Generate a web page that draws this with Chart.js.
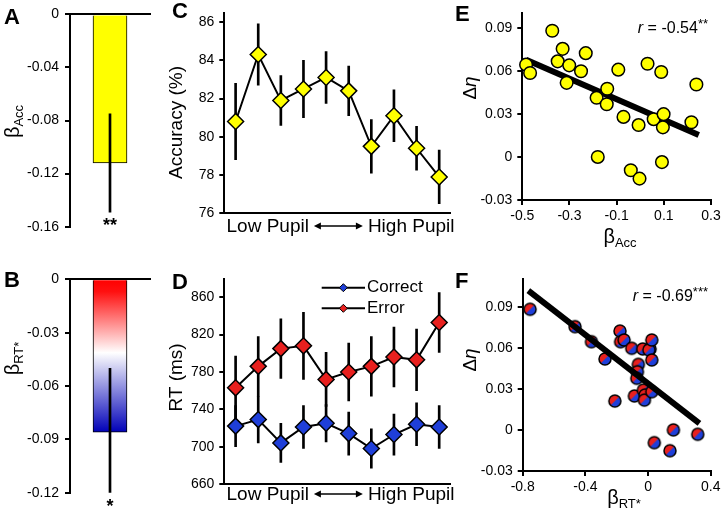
<!DOCTYPE html>
<html>
<head>
<meta charset="utf-8">
<script src="https://cdn.jsdelivr.net/npm/chart.js@4.4.1/dist/chart.umd.min.js"></script>
<style>
  html, body { margin: 0; padding: 0; background: #fff; }
  #fig { position: relative; width: 724px; height: 519px; overflow: hidden; }
  #fig canvas { position: absolute; }
</style>
</head>
<body>
<div id="fig">
  <canvas id="chartA" width="160" height="260" style="left:0;top:0"></canvas>
  <canvas id="chartB" width="160" height="259" style="left:0;top:260px"></canvas>
  <canvas id="chartC" width="300" height="260" style="left:160px;top:0"></canvas>
  <canvas id="chartD" width="300" height="259" style="left:160px;top:260px"></canvas>
  <canvas id="chartE" width="274" height="260" style="left:450px;top:0"></canvas>
  <canvas id="chartF" width="274" height="259" style="left:450px;top:260px"></canvas>
</div>
<script>
// ---- data ----
// A, B: mean regression weight and its error
const accBeta = [-0.112];
const accBetaErr = [0.037];
const rtBeta = [-0.086];
const rtBetaErr = [0.036];

// C, D: ten pupil bins
const pupilBins = ['1', '2', '3', '4', '5', '6', '7', '8', '9', '10'];
const accuracy = [80.8, 84.3, 81.9, 82.5, 83.1, 82.4, 79.5, 81.1, 79.4, 77.9];
const accuracyErr = [2.0, 1.6, 1.3, 1.5, 1.35, 1.3, 1.4, 1.35, 1.15, 1.4];
const rtCorrect = [722, 729, 704, 721, 725, 714, 698, 713, 724, 721];
const rtCorrectErr = [22, 25, 21, 23, 20, 23, 21, 22, 23, 23];
const rtError = [763, 786, 805, 808, 772, 780, 786, 796, 793, 833];
const rtErrorErr = [34, 32, 32, 36, 29, 31, 32, 32, 33, 32];

// E: beta accuracy vs delta eta
const betaAcc = [-0.484, -0.467, -0.373, -0.350, -0.329, -0.301, -0.312, -0.251, -0.231, -0.185, -0.180, -0.140, -0.142,
                 -0.093, -0.071, -0.040, -0.003, -0.007, 0.031, 0.057, 0.089, 0.092, 0.099, 0.096, 0.217, 0.238];
const etaE = [0.0643, 0.0585, 0.0879, 0.0666, 0.0753, 0.0638, 0.0516, 0.0597, 0.0723, 0.0412, 0.0, 0.0475, 0.0367,
              0.0608, 0.0279, -0.0093, -0.0151, 0.0222, 0.0649, 0.0263, 0.0592, -0.0036, 0.0298, 0.0206, 0.0242, 0.0505];
const fitEx = [-0.484, 0.248];
const fitEy = [0.0677, 0.0153];

// F: beta RT* vs delta eta
const betaRT = [-0.753, -0.466, -0.361, -0.275, -0.212, -0.179, -0.175, -0.153, -0.104, -0.034, 0.013, 0.005, 0.024,
                0.024, -0.062, -0.068, -0.072, -0.087, -0.030, -0.019, -0.023, 0.024, 0.040, 0.140, 0.162, 0.317];
const etaF = [0.0881, 0.0754, 0.0644, 0.0518, 0.0211, 0.0722, 0.0644, 0.0657, 0.0596, 0.0591, 0.0591, 0.0585, 0.0657,
              0.0511, 0.0479, 0.0425, 0.0377, 0.0248, 0.0291, 0.0255, 0.0218, 0.0279, -0.0093, -0.0152, 0.0, -0.0032];
const fitFx = [-0.764, 0.328];
const fitFy = [0.1017, 0.0048];

// tick values
const ticksA = [0, -0.04, -0.08, -0.12, -0.16];
const ticksB = [0, -0.03, -0.06, -0.09, -0.12];
const ticksC = [76, 78, 80, 82, 84, 86];
const ticksD = [660, 700, 740, 780, 820, 860];
const ticksEx = [-0.5, -0.3, -0.1, 0.1, 0.3];
const ticksFx = [-0.8, -0.4, 0, 0.4];
const ticksEta = [-0.03, 0, 0.03, 0.06, 0.09];

// ---- style ----
const YELLOW = '#ffff00';
const RED = '#e8201e';
const BLUE = '#1f3fd9';
const FONT = "'Liberation Sans', Arial, Helvetica, sans-serif";
Chart.defaults.font.family = FONT;
Chart.defaults.color = '#000';
Chart.defaults.animation = false;

const fmt = v => String(parseFloat(Number(v).toFixed(3)));

function linAxis(pos, min, max, ticks, size, pad) {
  return {
    type: 'linear', position: pos, min: min, max: max,
    afterBuildTicks: s => { s.ticks = ticks.map(v => ({ value: v })); },
    afterFit: s => { if (pos === 'left') s.width = size; else s.height = size; },
    ticks: { font: { size: 14 }, color: '#000', padding: pad, callback: v => fmt(v) },
    grid: { display: true, drawOnChartArea: false, drawTicks: true, tickLength: 5, color: '#000', lineWidth: 2 },
    border: { display: true, color: '#000', width: 2 }
  };
}

function catAxis(pos, size) {
  return {
    type: 'category', position: pos, offset: true,
    afterFit: s => { s.height = size; },
    ticks: { display: false },
    grid: { display: false },
    border: { display: true, color: '#000', width: 2 }
  };
}

// free text (panel letters, sub-scripted titles, stars); a part may be a drawn double arrow
const textPlugin = {
  id: 'panelText',
  afterDraw(chart, args, opts) {
    const ctx = chart.ctx;
    const partWidth = p => {
      if (p.arrow) return p.arrow + 2 * p.gap;
      ctx.font = p.font;
      return ctx.measureText(p.text).width;
    };
    (opts.items || []).forEach(item => {
      ctx.save();
      ctx.translate(item.x, item.y);
      if (item.rotate) ctx.rotate(item.rotate * Math.PI / 180);
      ctx.fillStyle = '#000';
      ctx.strokeStyle = '#000';
      ctx.textBaseline = 'alphabetic';
      ctx.textAlign = 'left';
      let total = 0;
      item.parts.forEach(p => { total += partWidth(p); });
      let x = item.align === 'center' ? -total / 2 : item.align === 'right' ? -total : 0;
      item.parts.forEach(p => {
        if (p.arrow) {
          const x0 = x + p.gap, x1 = x0 + p.arrow, y = p.dy;
          ctx.lineWidth = 1.6;
          ctx.beginPath();
          ctx.moveTo(x0 + 2, y); ctx.lineTo(x1 - 2, y);
          ctx.stroke();
          ctx.beginPath();
          ctx.moveTo(x0, y); ctx.lineTo(x0 + 7, y - 3.5); ctx.lineTo(x0 + 7, y + 3.5); ctx.closePath();
          ctx.moveTo(x1, y); ctx.lineTo(x1 - 7, y - 3.5); ctx.lineTo(x1 - 7, y + 3.5); ctx.closePath();
          ctx.fill();
        } else {
          ctx.font = p.font;
          ctx.fillText(p.text, x, p.dy || 0);
        }
        x += partWidth(p);
      });
      ctx.restore();
    });
  }
};

// legend with line + diamond, as in the figure
const lineLegend = {
  id: 'lineLegend',
  afterDraw(chart, args, opts) {
    if (!opts.rows) return;
    const ctx = chart.ctx;
    opts.rows.forEach(r => {
      ctx.save();
      ctx.strokeStyle = '#000';
      ctx.lineWidth = 2;
      ctx.beginPath();
      ctx.moveTo(opts.x0, r.y);
      ctx.lineTo(opts.x1, r.y);
      ctx.stroke();
      const cx = (opts.x0 + opts.x1) / 2, d = 4;
      ctx.beginPath();
      ctx.moveTo(cx - d, r.y); ctx.lineTo(cx, r.y - d); ctx.lineTo(cx + d, r.y); ctx.lineTo(cx, r.y + d);
      ctx.closePath();
      ctx.fillStyle = r.color;
      ctx.fill();
      ctx.lineWidth = 1;
      ctx.stroke();
      ctx.fillStyle = '#000';
      ctx.font = '17px ' + FONT;
      ctx.textBaseline = 'middle';
      ctx.fillText(r.text, opts.x1 + 2, r.y);
      ctx.restore();
    });
  }
};

const letter = (t, x, y) => ({ x: x, y: y, parts: [{ text: t, font: 'bold 22px ' + FONT }] });
const betaTitle = (sub, x, y, rot, align) => ({
  x: x, y: y, rotate: rot, align: align,
  parts: [{ text: 'β', font: '20px ' + FONT }, { text: sub, font: '13px ' + FONT, dy: 4 }]
});
const etaTitle = (x, y) => ({
  x: x, y: y, rotate: -90, align: 'center',
  parts: [{ text: 'Δ', font: '19px ' + FONT }, { text: 'η', font: 'italic 19px ' + FONT }]
});
const rText = (num, stars, x, y) => ({
  x: x, y: y, align: 'right',
  parts: [{ text: 'r', font: 'italic 16px ' + FONT }, { text: ' = ' + num, font: '16px ' + FONT },
          { text: stars, font: '13px ' + FONT, dy: -5 }]
});
const pupilTitle = (x, y) => ({
  x: x, y: y, align: 'center',
  parts: [{ text: 'Low Pupil', font: '19px ' + FONT }, { arrow: 49, gap: 5, dy: -6 }, { text: 'High Pupil', font: '19px ' + FONT }]
});

const baseOpts = (padding, scales, items, extra) => ({
  responsive: false,
  layout: { padding: padding },
  scales: scales,
  plugins: Object.assign({ legend: { display: false }, tooltip: { enabled: false }, panelText: { items: items } }, extra || {})
});

// ---- A ----
new Chart(document.getElementById('chartA'), {
  type: 'bar',
  data: {
    labels: [''],
    datasets: [
      { data: accBeta.map((m, i) => [m - accBetaErr[i], m + accBetaErr[i]]), backgroundColor: '#000', barThickness: 2, grouped: false, order: 0 },
      { data: accBeta, backgroundColor: YELLOW, borderColor: '#000', borderWidth: 1, barThickness: 34, grouped: false, order: 1 }
    ]
  },
  options: baseOpts({ left: 0, right: 10, top: 11.7, bottom: 33.3 }, {
    x: catAxis('top', 0),
    y: linAxis('left', -0.16, 0, ticksA, 70, 6)
  }, [
    letter('A', 4, 24),
    betaTitle('Acc', 19, 121.5, -90, 'center'),
    { x: 110, y: 231, align: 'center', parts: [{ text: '**', font: 'bold 18px ' + FONT }] }
  ]),
  plugins: [textPlugin]
});

// ---- B ----
new Chart(document.getElementById('chartB'), {
  type: 'bar',
  data: {
    labels: [''],
    datasets: [
      { data: rtBeta.map((m, i) => [m - rtBetaErr[i], m + rtBetaErr[i]]), backgroundColor: '#000', barThickness: 2, grouped: false, order: 0 },
      {
        data: rtBeta, borderColor: '#000', borderWidth: 1, barThickness: 34, grouped: false, order: 1,
        backgroundColor(c) {
          const ch = c.chart;
          if (!ch.chartArea) return BLUE;
          const y = ch.scales.y;
          const g = ch.ctx.createLinearGradient(0, y.getPixelForValue(0), 0, y.getPixelForValue(rtBeta[0]));
          g.addColorStop(0, '#ff0000');
          g.addColorStop(0.08, '#ff1010');
          g.addColorStop(0.48, '#ffffff');
          g.addColorStop(1, '#0000b8');
          return g;
        }
      }
    ]
  },
  options: baseOpts({ left: 0, right: 10, top: 19.3, bottom: 26.3 }, {
    x: catAxis('top', 0),
    y: linAxis('left', -0.12, 0, ticksB, 70, 6)
  }, [
    letter('B', 4, 27),
    betaTitle('RT*', 19, 98.5, -90, 'center'),
    { x: 110, y: 252, align: 'center', parts: [{ text: '*', font: 'bold 18px ' + FONT }] }
  ]),
  plugins: [textPlugin]
});

// ---- C ----
new Chart(document.getElementById('chartC'), {
  type: 'bar',
  data: {
    labels: pupilBins,
    datasets: [
      {
        type: 'line', data: accuracy, borderColor: '#000', borderWidth: 2, tension: 0, order: 1,
        pointStyle: 'rectRot', pointRadius: 8, pointBackgroundColor: YELLOW, pointBorderColor: '#000', pointBorderWidth: 1.5
      },
      { data: accuracy.map((m, i) => [m - accuracyErr[i], m + accuracyErr[i]]), backgroundColor: '#000', barThickness: 2, grouped: false, order: 2 }
    ]
  },
  options: baseOpts({ left: 0, right: 9.3, top: 13.4, bottom: 0 }, {
    x: catAxis('bottom', 46.7),
    y: linAxis('left', 76, 86.45, ticksC, 64.3, 5)
  }, [
    letter('C', 12, 18),
    { x: 22, y: 122.5, rotate: -90, align: 'center', parts: [{ text: 'Accuracy (%)', font: '19px ' + FONT }] },
    pupilTitle(180.5, 232)
  ]),
  plugins: [textPlugin]
});

// ---- D ----
new Chart(document.getElementById('chartD'), {
  type: 'bar',
  data: {
    labels: pupilBins,
    datasets: [
      {
        type: 'line', data: rtCorrect, borderColor: '#000', borderWidth: 2, tension: 0, order: 1,
        pointStyle: 'rectRot', pointRadius: 8, pointBackgroundColor: BLUE, pointBorderColor: '#000', pointBorderWidth: 1.5
      },
      {
        type: 'line', data: rtError, borderColor: '#000', borderWidth: 2, tension: 0, order: 1,
        pointStyle: 'rectRot', pointRadius: 8, pointBackgroundColor: RED, pointBorderColor: '#000', pointBorderWidth: 1.5
      },
      { data: rtCorrect.map((m, i) => [m - rtCorrectErr[i], m + rtCorrectErr[i]]), backgroundColor: '#000', barThickness: 2, grouped: false, order: 2 },
      { data: rtError.map((m, i) => [m - rtErrorErr[i], m + rtErrorErr[i]]), backgroundColor: '#000', barThickness: 2, grouped: false, order: 2 }
    ]
  },
  options: baseOpts({ left: 0, right: 9.3, top: 18.6, bottom: 0 }, {
    x: catAxis('bottom', 35),
    y: linAxis('left', 660, 880, ticksD, 64.3, 5)
  }, [
    letter('D', 12, 28.5),
    { x: 22, y: 117.5, rotate: -90, align: 'center', parts: [{ text: 'RT (ms)', font: '19px ' + FONT }] },
    pupilTitle(180.5, 240)
  ], {
    lineLegend: { x0: 161.7, x1: 205, rows: [{ y: 27.7, color: BLUE, text: 'Correct' }, { y: 48.3, color: RED, text: 'Error' }] }
  }),
  plugins: [textPlugin, lineLegend]
});

// ---- E ----
new Chart(document.getElementById('chartE'), {
  type: 'scatter',
  data: {
    datasets: [
      {
        data: betaAcc.map((x, i) => ({ x: x, y: etaE[i] })), order: 0, clip: false,
        pointRadius: 6.3, pointBackgroundColor: YELLOW, pointBorderColor: '#000', pointBorderWidth: 1.5
      },
      {
        data: fitEx.map((x, i) => ({ x: x, y: fitEy[i] })), order: 1, clip: false,
        showLine: true, pointRadius: 0, borderColor: '#000', borderWidth: 6, borderCapStyle: 'butt'
      }
    ]
  },
  options: baseOpts({ left: 0, right: 13, top: 11.5, bottom: 0 }, {
    x: linAxis('bottom', -0.5, 0.3, ticksEx, 60, 3),
    y: linAxis('left', -0.03, 0.1, ticksEta, 72.3, 5)
  }, [
    letter('E', 5, 21),
    etaTitle(26, 88),
    rText('-0.54', '**', 258, 33),
    betaTitle('Acc', 170, 243, 0, 'center')
  ]),
  plugins: [textPlugin]
});

// ---- F ----
function splitDot(r) {
  const c = document.createElement('canvas');
  const s = Math.ceil(r * 2 + 4);
  c.width = c.height = s;
  const g = c.getContext('2d');
  const m = s / 2;
  const grad = g.createLinearGradient(m - r * 0.7, m - r * 0.7, m + r * 0.7, m + r * 0.7);
  grad.addColorStop(0, RED);
  grad.addColorStop(0.45, RED);
  grad.addColorStop(0.55, BLUE);
  grad.addColorStop(1, BLUE);
  g.beginPath();
  g.arc(m, m, r, 0, Math.PI * 2);
  g.fillStyle = grad;
  g.fill();
  g.lineWidth = 1.5;
  g.strokeStyle = '#000';
  g.stroke();
  return c;
}

new Chart(document.getElementById('chartF'), {
  type: 'scatter',
  data: {
    datasets: [
      {
        data: betaRT.map((x, i) => ({ x: x, y: etaF[i] })), order: 1, clip: false,
        pointStyle: splitDot(6), pointRadius: 6
      },
      {
        data: fitFx.map((x, i) => ({ x: x, y: fitFy[i] })), order: 0, clip: false,
        showLine: true, pointRadius: 0, borderColor: '#000', borderWidth: 6, borderCapStyle: 'butt'
      }
    ]
  },
  options: baseOpts({ left: 0, right: 13.3, top: 19.3, bottom: 0 }, {
    x: linAxis('bottom', -0.8, 0.4, ticksFx, 48, 3),
    y: linAxis('left', -0.03, 0.11, ticksEta, 72.7, 5)
  }, [
    letter('F', 5, 28),
    etaTitle(26, 100),
    rText('-0.69', '***', 258, 41),
    betaTitle('RT*', 174, 244, 0, 'center')
  ]),
  plugins: [textPlugin]
});
</script>
</body>
</html>
